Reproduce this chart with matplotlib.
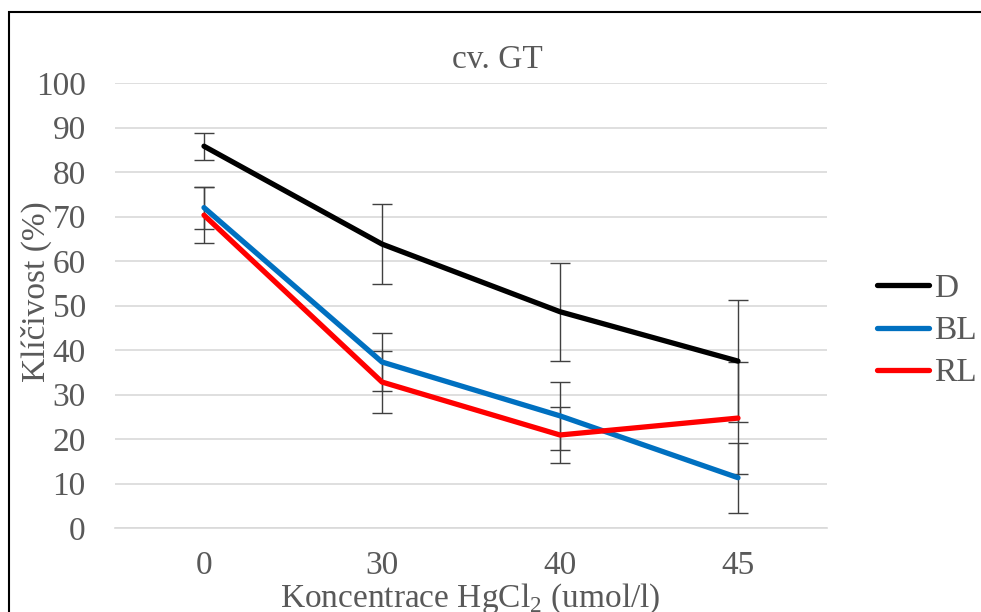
import matplotlib
matplotlib.use("Agg")
import matplotlib.pyplot as plt
from matplotlib.patches import Rectangle
from matplotlib.lines import Line2D

categories = ["0", "30", "40", "45"]
series_names = ["D", "BL", "RL"]
d_values = [85.8, 63.8, 48.6, 37.5]
d_err = [3.0, 9.0, 11.0, 13.7]
bl_values = [72.0, 37.3, 25.2, 11.3]
bl_err = [4.7, 6.5, 7.7, 7.9]
rl_values = [70.3, 32.8, 20.9, 24.7]
rl_err = [6.3, 7.0, 6.3, 12.6]
colors = ["#000000", "#0070C0", "#FF0000"]

plt.rcParams['font.family'] = ['Liberation Serif', 'DejaVu Serif']
txt = "#595959"

fig = plt.figure(figsize=(9.81, 6.12), dpi=100)
ax = fig.add_axes([115/981, 1-528/612, 712/981, 445/612])

x = list(range(len(categories)))
for vals, errs, c, name in zip([d_values, bl_values, rl_values],
                               [d_err, bl_err, rl_err], colors, series_names):
    ax.errorbar(x, vals, yerr=errs, color=c, lw=3.8, ecolor="#404040",
                elinewidth=1.0, capsize=7, capthick=1.0, label=name,
                solid_capstyle='round', zorder=3)

ax.set_xlim(-0.5, 3.5)
ax.set_ylim(0, 100)
ax.set_yticks(range(0, 101, 10))
ax.set_xticks(x)
ax.set_xticklabels(categories)
ax.grid(axis='y', color="#d9d9d9", lw=1.2, zorder=0)
ax.set_axisbelow(True)
for s in ["top", "right", "left"]:
    ax.spines[s].set_visible(False)
ax.spines["bottom"].set_color("#d9d9d9")
ax.spines["bottom"].set_linewidth(1.2)
ax.tick_params(length=0, labelsize=24, labelcolor=txt)
ax.tick_params(axis='y', pad=21)
ax.tick_params(axis='x', pad=16)

fig.text(497/981, 1-60/612, "cv. GT", ha='center', va='center', fontsize=24, color=txt)
fig.text(36/981, 1-292/612, "Klíčivost (%)", rotation=90, ha='center', va='center',
         fontsize=24, color=txt)
fig.text(470/981, 1-599/612, r"Koncentrace HgCl$_\mathregular{2}$ (umol/l)", ha='center',
         va='center', fontsize=24, color=txt)

handles = [Line2D([0], [0], color=c, lw=3.8, solid_capstyle='round') for c in colors]
leg = fig.legend(handles, series_names, loc='center left', bbox_to_anchor=(877/981, 1-331/612),
                 frameon=False, fontsize=24, labelcolor=txt, handlelength=1.55,
                 handletextpad=0.15, labelspacing=0.35, borderaxespad=0, borderpad=0)

fig.patches.append(Rectangle((9/981, -0.1), 1.2, 1-12/612+0.1, transform=fig.transFigure,
                             fill=False, edgecolor='black', lw=1.5, zorder=10))

fig.savefig("out.png", dpi=100)
